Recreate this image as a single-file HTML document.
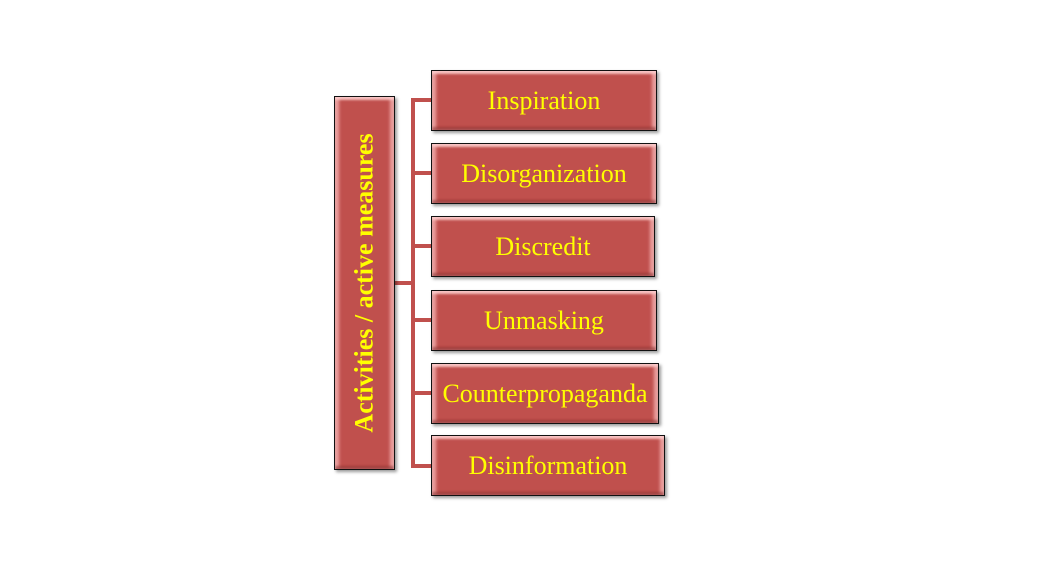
<!DOCTYPE html>
<html><head><style>
body{margin:0;width:1051px;height:577px;background:#fff;position:relative;overflow:hidden;font-family:"Liberation Serif",serif}
.b{position:absolute;box-sizing:border-box;border:1.5px solid #111;background:#c0504d;
box-shadow:inset 0 3px 2px rgba(255,210,210,.8),inset 0 -3px 2px rgba(120,30,30,.5),inset 4px 0 3px rgba(255,200,200,.7),inset -4px 0 3px rgba(255,200,200,.7),2px 2px 3px rgba(0,0,0,.4);
color:#ffff00;font-size:26px;display:flex;align-items:center;justify-content:center;white-space:nowrap}
.l{position:absolute;background:#c0504d}
</style></head><body>
<div class="l" style="left:411px;top:99px;width:4px;height:369px"></div>
<div class="l" style="left:395px;top:281px;width:18px;height:4px"></div>
<div class="l" style="left:411px;top:98px;width:20px;height:4px"></div>
<div class="l" style="left:411px;top:171px;width:20px;height:4px"></div>
<div class="l" style="left:411px;top:244px;width:20px;height:4px"></div>
<div class="l" style="left:411px;top:318px;width:20px;height:4px"></div>
<div class="l" style="left:411px;top:391px;width:20px;height:4px"></div>
<div class="l" style="left:411px;top:464px;width:20px;height:4px"></div>
<div class="b" style="left:334px;top:96px;width:61px;height:374px"><div style="transform:rotate(-90deg);font-weight:bold;font-size:26px">Activities / active measures</div></div>
<div class="b" style="left:431px;top:70px;width:226px;height:61px">Inspiration</div>
<div class="b" style="left:431px;top:143px;width:226px;height:61px">Disorganization</div>
<div class="b" style="left:431px;top:216px;width:224px;height:61px">Discredit</div>
<div class="b" style="left:431px;top:290px;width:226px;height:61px">Unmasking</div>
<div class="b" style="left:431px;top:363px;width:228px;height:61px">Counterpropaganda</div>
<div class="b" style="left:431px;top:435px;width:234px;height:61px">Disinformation</div>
</body></html>
